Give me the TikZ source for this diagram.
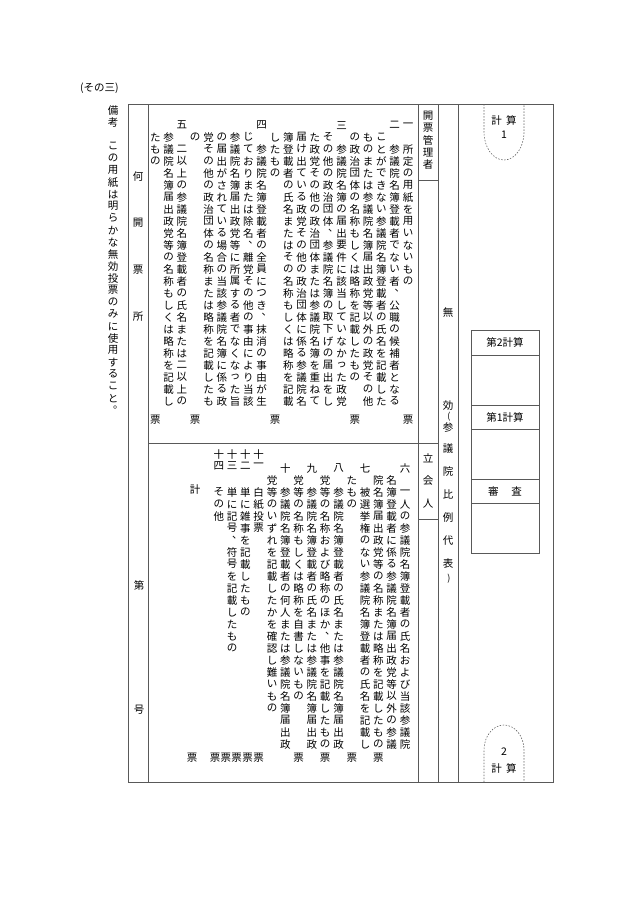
\documentclass[tikz,border=0pt]{standalone}
\usepackage{fontspec}
\setmainfont{Noto Sans CJK JP}
\ExplSyntaxOn
\cs_new:Npn \vtchar #1 {
  \str_case:nnF {#1}
   { {、}{\hbox{\hskip0.5em\raise0.55em\hbox{#1}\hskip-0.5em}}
     {。}{\hbox{\hskip0.5em\raise0.55em\hbox{#1}\hskip-0.5em}} }
   {\hbox{#1}}
}
\NewDocumentCommand\vt{O{12pt}m}{\vbox{\offinterlineskip\tl_map_inline:nn{#2}{\hbox_to_wd:nn{12pt}{\hss\vbox_to_ht:nn{#1}{\vss\vtchar{##1}\vss}\hss}}}}
\ExplSyntaxOff
\tikzset{
  frame/.style={draw=black!65,line width=0.8pt},
  dsh/.style={draw=black!60,line width=0.6pt,dash pattern=on 1.5pt off 1.5pt},
  col/.style={inner sep=0pt,anchor=north,font=\fontsize{10.5}{12}\selectfont},
  lab/.style={inner sep=0pt,font=\fontsize{10.5}{12}\selectfont},
}
\begin{document}
\begin{tikzpicture}[x=1pt,y=-1pt]
\path[use as bounding box] (0,0) rectangle (630,903);
% frame
\draw[frame] (128,104) rectangle (553,782);
\draw[frame] (148,104) -- (148,782);
\draw[frame] (418,104) -- (418,782);
\draw[frame] (438,104) -- (438,782);
\draw[frame] (458,104) -- (458,782);
\draw[frame] (148,443) -- (438,443);
\draw[frame] (418,180) -- (438,180);
\draw[frame] (418,519) -- (438,519);
% right boxes
\draw[frame] (471,330) rectangle (539,553);
\foreach \yy in {355,405,429,479,503} \draw[frame] (471,\yy) -- (539,\yy);
\node[lab] (k2) at (505,342) {第2計算};
\node[lab] (k1) at (505,417) {第1計算};
\node[lab] (sh) at (505,491) {審\hspace{1.2em}査};
% dashed tabs
\draw[dsh] (484,104) -- (484,132) arc[start angle=180,end angle=360,x radius=20,y radius=-28] -- (524,104);
\draw[dsh] (484,782) -- (484,750) arc[start angle=180,end angle=0,x radius=20,y radius=-25] -- (524,782);
\node[lab] (ka) at (504,120) {計\hspace{0.4em}算};
\node[lab] (kb) at (504,135) {1};
\node[lab] (kc) at (504,752) {2};
\node[lab] (kd) at (504,768) {計\hspace{0.4em}算};
% header
\node[lab,anchor=west] (hd) at (80,88) {(その三)};
\node[col] (bk) at (113,104) {\vt{備考　この用紙は明らかな無効投票のみに使用すること。}};
% left labels
\node[lab] (l1) at (138,177) {何};
\node[lab] (l2) at (138,223) {開};
\node[lab] (l3) at (138,270) {票};
\node[lab] (l4) at (138,317) {所};
\node[lab] (l5) at (139,585) {第};
\node[lab] (l6) at (139,710) {号};
% mid columns
\node[col] (kk) at (428,110) {\vt{開票管理者}};
\node[col] (tc) at (428,447) {\vt[22.5pt]{立会人}};
\node[lab] (m1) at (448,313) {無};
\node[lab] (m2) at (448,406) {効};
\node[lab,font=\fontsize{9}{10}\selectfont] (m3) at (449,417) {(};
\node[lab] (m4) at (448,428) {参};
\node[col] (m5) at (448,437) {\vt[23pt]{議院比例代表}};
\node[lab,font=\fontsize{9}{10}\selectfont] (m6) at (449,579) {)};
% top columns: x = 408 - 13.3k
\node[col] (t0) at (408.0,119) {\vt{一　所定の用紙を用いないもの}};
\node[col] (t1) at (394.7,119) {\vt{二　参議院名簿登載者でない者、公職の候補者となる}};
\node[col] (t2) at (381.4,119) {\vt{　ことができない参議院名簿登載者の氏名を記載した}};
\node[col] (t3) at (368.1,119) {\vt{　ものまたは参議院名簿届出政党等以外の政党その他}};
\node[col] (t4) at (354.8,119) {\vt{　の政治団体の名称もしくは略称を記載したもの}};
\node[col] (t5) at (341.5,119) {\vt{三　参議院名簿の届出要件に該当していなかった政党}};
\node[col] (t6) at (328.2,119) {\vt{　その他の政治団体、参議院名簿の取下げの届出をし}};
\node[col] (t7) at (314.9,119) {\vt{　た政党その他の政治団体または参議院名簿を重ねて}};
\node[col] (t8) at (301.6,119) {\vt{　届け出ている政党その他の政治団体に係る参議院名}};
\node[col] (t9) at (288.3,119) {\vt{　簿登載者の氏名またはその名称もしくは略称を記載}};
\node[col] (t10) at (275.0,119) {\vt{　したもの}};
\node[col] (t11) at (261.7,119) {\vt{四　参議院名簿登載者の全員につき、抹消の事由が生}};
\node[col] (t12) at (248.4,119) {\vt{　じておりまたは除名、離党その他の事由により当該}};
\node[col] (t13) at (235.1,119) {\vt{　参議院名簿届出政党等に所属する者でなくなった旨}};
\node[col] (t14) at (221.8,119) {\vt{　の届出がされている場合の当該参議院名簿に係る政}};
\node[col] (t15) at (208.5,119) {\vt{　党その他の政治団体の名称または略称を記載したも}};
\node[col] (t16) at (195.2,119) {\vt{　の}};
\node[col] (t17) at (181.9,119) {\vt{五　二以上の参議院名簿登載者の氏名または二以上の}};
\node[col] (t18) at (168.6,119) {\vt{　参議院名簿届出政党等の名称もしくは略称を記載し}};
\node[col] (t19) at (155.3,119) {\vt{　たもの}};
\foreach \xx/\nn in {408/a,354.8/b,275/c,195.2/d,155.3/e} \node[lab] (tv\nn) at (\xx,420) {票};
% bottom columns
\node[col] (b0) at (405.0,462) {\vt{六　一人の参議院名簿登載者の氏名および当該参議院}};
\node[col] (b1) at (391.7,462) {\vt{　名簿登載者に係る参議院名簿届出政党等以外の参議}};
\node[col] (b2) at (378.4,462) {\vt{　院名簿届出政党等の名称または略称を記載したもの}};
\node[col] (b3) at (365.1,462) {\vt{七　被選挙権のない参議院名簿登載者の氏名を記載し}};
\node[col] (b4) at (351.8,462) {\vt{　たもの}};
\node[col] (b5) at (338.5,462) {\vt{八　参議院名簿登載者の氏名または参議院名簿届出政}};
\node[col] (b6) at (325.2,462) {\vt{　党等の名称および略称のほか、他事を記載したもの}};
\node[col] (b7) at (311.9,462) {\vt{九　参議院名簿登載者の氏名または参議院名簿届出政}};
\node[col] (b8) at (298.6,462) {\vt{　党等の名称もしくは略称を自書しないもの}};
\node[col] (b9) at (285.3,462) {\vt{十　参議院名簿登載者の何人または参議院名簿届出政}};
\node[col] (b10) at (272.0,462) {\vt{　党等のいずれを記載したかを確認し難いもの}};
\node[col] (b11) at (258.7,449) {\vt[11pt]{十一}};
\node[col] (b11t) at (258.7,486) {\vt{白紙投票}};
\node[col] (b12) at (245.4,449) {\vt[11pt]{十二}};
\node[col] (b12t) at (245.4,486) {\vt{単に雑事を記載したもの}};
\node[col] (b13) at (232.1,449) {\vt[11pt]{十三}};
\node[col] (b13t) at (232.1,486) {\vt{単に記号、符号を記載したもの}};
\node[col] (b14) at (218.8,449) {\vt[11pt]{十四}};
\node[col] (b14t) at (218.8,486) {\vt{その他}};
\node[lab] (kei) at (195,490) {計};
\foreach \xx/\nn in {378.4/a,351.8/b,325.2/c,298.6/d,258.5/e,247.5/f,236.5/g,225.8/h,215/i,192/j} \node[lab] (bv\nn) at (\xx,758) {票};
\end{tikzpicture}
\end{document}
